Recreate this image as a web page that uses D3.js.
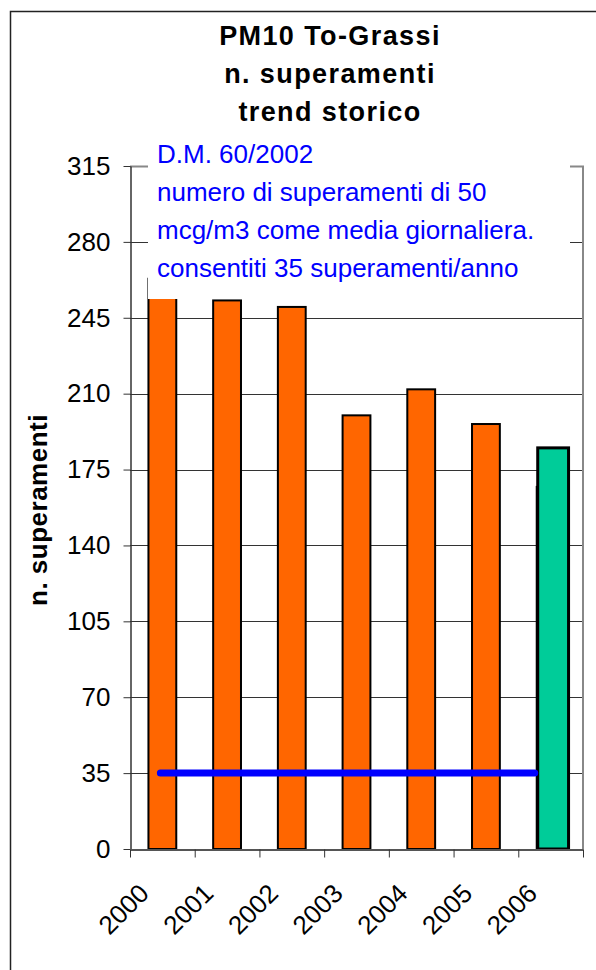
<!DOCTYPE html>
<html>
<head>
<meta charset="utf-8">
<script src="https://cdn.jsdelivr.net/npm/d3@7"></script>
<style>
  body { margin: 0; background: #fff; }
  svg text { font-family: "Liberation Sans", Arial, sans-serif; }
</style>
</head>
<body>
<script>
// data
var years = ["2000", "2001", "2002", "2003", "2004", "2005", "2006"];
var exceed = [263, 253, 250, 200, 212, 196, 167];
var current = [{year: "2006", value: 185}];
var limit = 35;
var yTicks = [0, 35, 70, 105, 140, 175, 210, 245, 280, 315];
var titleLines = ["PM10 To-Grassi", "n. superamenti", "trend storico"];
var noteLines = ["D.M. 60/2002", "numero di superamenti di 50",
                 "mcg/m3 come media giornaliera.", "consentiti 35 superamenti/anno"];

var width = 596, height = 970;
var plotL = 130, plotR = 583, plotT = 166, plotB = 849;

var svg = d3.select("body").append("svg")
    .attr("width", width)
    .attr("height", height);

// outer chart frame (runs off the right and bottom edge)
svg.append("rect")
    .attr("x", 10.5).attr("y", 11.5)
    .attr("width", 700).attr("height", 1000)
    .attr("fill", "none").attr("stroke", "#222").attr("stroke-width", 1.5);

var y = d3.scaleLinear().domain([0, 315]).range([plotB, plotT]);
var cat = d3.scaleBand().domain(years).range([plotL, plotR]).padding(0);
var edge = d3.scaleLinear().domain([0, years.length]).range([plotL, plotR]);
var barW = cat.bandwidth() * 0.43;
function barX(d) { return cat(d) + (cat.bandwidth() - barW) / 2; }

// gridlines
svg.append("g").selectAll("line")
    .data(yTicks.filter(function (t) { return t > 0 && t < 315; }))
    .enter().append("line")
    .attr("x1", plotL).attr("x2", plotR)
    .attr("y1", function (d) { return Math.round(y(d)) + 0.5; })
    .attr("y2", function (d) { return Math.round(y(d)) + 0.5; })
    .attr("stroke", "#333").attr("stroke-width", 1);

// plot area border top/right (grey)
svg.append("path")
    .attr("d", "M" + plotL + "," + (plotT + 0.5) + "H" + plotR + "V" + plotB)
    .attr("fill", "none").attr("stroke", "#888").attr("stroke-width", 2);

// bars
svg.append("g").selectAll("rect")
    .data(years)
    .enter().append("rect")
    .attr("x", function (d) { return barX(d); })
    .attr("y", function (d, i) { return y(exceed[i]); })
    .attr("width", barW)
    .attr("height", function (d, i) { return plotB - y(exceed[i]); })
    .attr("fill", "#ff6600")
    .attr("stroke", "#000").attr("stroke-width", 2);

svg.append("g").selectAll("rect")
    .data(current)
    .enter().append("rect")
    .attr("x", function (d) { return barX(d.year) + 1; })
    .attr("y", function (d) { return y(d.value); })
    .attr("width", barW + 3)
    .attr("height", function (d) { return plotB - y(d.value); })
    .attr("fill", "#00cc99")
    .attr("stroke", "#000").attr("stroke-width", 3);

// limit line
svg.append("line")
    .attr("x1", cat("2000") + cat.bandwidth() / 2 - 2)
    .attr("x2", barX("2006") - 2)
    .attr("y1", y(limit)).attr("y2", y(limit))
    .attr("stroke", "#0000ff").attr("stroke-width", 7)
    .attr("stroke-linecap", "round");

// y axis
var yAxis = d3.axisLeft(y).tickValues(yTicks).tickSize(7).tickPadding(13).tickSizeOuter(0);
var gy = svg.append("g")
    .attr("transform", "translate(" + (plotL + 0.5) + ",0)")
    .call(yAxis);
gy.select(".domain").attr("stroke", "#333").attr("stroke-width", 1.5);
gy.selectAll(".tick line").attr("stroke", "#333");
gy.selectAll(".tick text").attr("font-size", 26).attr("fill", "#000");

// x axis (ticks between categories)
var xAxis = d3.axisBottom(edge).tickValues(d3.range(years.length + 1))
    .tickFormat("").tickSize(8).tickSizeOuter(0);
var gx = svg.append("g")
    .attr("transform", "translate(0," + (plotB + 0.5) + ")")
    .call(xAxis);
gx.select(".domain").attr("stroke", "#555").attr("stroke-width", 2);
gx.selectAll(".tick line").attr("stroke", "#333");

svg.append("g").selectAll("text")
    .data(years)
    .enter().append("text")
    .attr("transform", function (d) {
        return "translate(" + (cat(d) + cat.bandwidth() / 2 - 12) + ",895) rotate(-45)";
    })
    .attr("text-anchor", "end")
    .attr("font-size", 26)
    .text(function (d) { return d; });

// note box
svg.append("rect")
    .attr("x", 148).attr("y", 140)
    .attr("width", 422).attr("height", 159)
    .attr("fill", "#fff");
svg.append("g").selectAll("text")
    .data(noteLines)
    .enter().append("text")
    .attr("x", 157)
    .attr("y", function (d, i) { return 163 + i * 38; })
    .attr("font-size", 26)
    .attr("fill", "#0000ff")
    .text(function (d) { return d; });

// title
svg.append("g").selectAll("text")
    .data(titleLines)
    .enter().append("text")
    .attr("x", 330)
    .attr("y", function (d, i) { return 45 + i * 38; })
    .attr("text-anchor", "middle")
    .attr("font-size", 27)
    .attr("font-weight", "bold")
    .attr("letter-spacing", 1.4)
    .text(function (d) { return d; });

// y axis title
svg.append("text")
    .attr("transform", "translate(47,510) rotate(-90)")
    .attr("text-anchor", "middle")
    .attr("font-size", 26)
    .attr("font-weight", "bold")
    .attr("letter-spacing", 0.5)
    .text("n. superamenti");
</script>
</body>
</html>
